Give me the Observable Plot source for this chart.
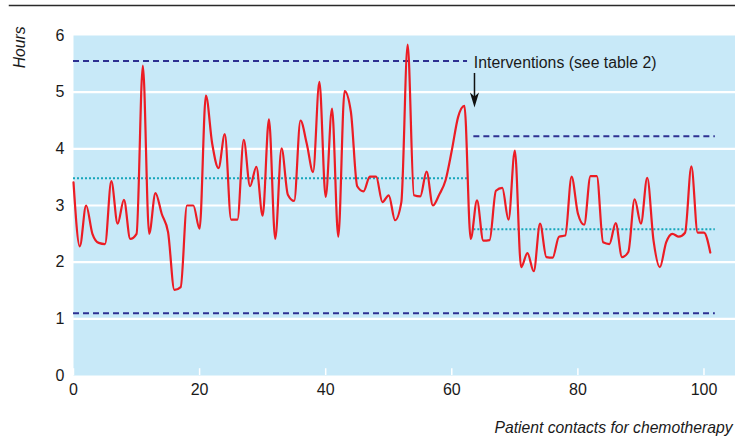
<!DOCTYPE html>
<html>
<head>
<meta charset="utf-8">
<script src="https://cdn.jsdelivr.net/npm/d3@7"></script>
<script src="https://cdn.jsdelivr.net/npm/@observablehq/plot@0.6"></script>
<style>
  html, body { margin: 0; padding: 0; background: #fff; }
  svg { display: block; }
</style>
</head>
<body>
<div id="chart"></div>
<script>
// Hours per patient contact for chemotherapy (contacts 0..101)
const hours = [
  3.41, 2.28, 3.00, 2.50, 2.34, 2.32, 3.43, 2.68, 3.10, 2.41, 2.50, 5.47, 2.50, 3.22, 2.85, 2.53, 1.51,
  1.56, 3.00, 3.00, 2.59, 4.94, 4.09, 3.66, 4.26, 2.75, 2.75, 4.16, 3.34, 3.68, 2.82, 4.52, 2.41, 4.01,
  3.19, 3.08, 4.50, 4.09, 3.59, 5.18, 3.15, 4.71, 2.45, 5.02, 4.65, 3.34, 3.25, 3.51, 3.51, 3.06, 3.18,
  2.74, 3.06, 5.84, 3.18, 3.16, 3.60, 3.00, 3.19, 3.44, 3.97, 4.56, 4.76, 2.41, 3.09, 2.38, 2.39, 3.26,
  3.31, 2.75, 3.97, 1.91, 2.16, 1.84, 2.68, 2.09, 2.08, 2.45, 2.47, 3.51, 2.86, 2.66, 3.52, 3.52, 2.35,
  2.32, 2.69, 2.09, 2.18, 3.11, 2.68, 3.49, 2.38, 1.91, 2.35, 2.50, 2.45, 2.52, 3.69, 2.52, 2.52, 2.17
];
const contacts = hours.map((_, i) => i);

// Control limits for the two phases (before / after interventions)
const phaseStart = [0, 63.5];
const phaseEnd = [62.5, 101.8];
const upperLimit = [5.55, 4.22];
const centreLine = [3.48, 2.58];
const lowerLimit = [1.1];
const lowerStart = [0];
const lowerEnd = [101.8];

// Tick labels
const xTicks = [0, 20, 40, 60, 80, 100];
const yTicks = [0, 1, 2, 3, 4, 5, 6];
const gridHours = [1, 2, 3, 4, 5];

// Annotation
const annotationText = ["Interventions (see table 2)"];
const interventionAt = 63.6;
const yAxisLabel = ["Hours"];
const xAxisLabel = ["Patient contacts for chemotherapy"];

const series = contacts.map((c, i) => ({contact: c, hours: hours[i]}));
const ucl = phaseStart.map((s, i) => ({x1: s, x2: phaseEnd[i], y: upperLimit[i]}));
const mean = phaseStart.map((s, i) => ({x1: s, x2: phaseEnd[i], y: centreLine[i]}));
const lcl = lowerLimit.map((v, i) => ({x1: lowerStart[i], x2: lowerEnd[i], y: v}));

const arrowHead = {
  draw(ctx) {
    ctx.moveTo(0, 0);
    ctx.lineTo(-4.5, -15);
    ctx.lineTo(0, -11);
    ctx.lineTo(4.5, -15);
    ctx.closePath();
  }
};

const font = "'Liberation Sans', Arial, sans-serif";

const chart = Plot.plot({
  width: 735,
  height: 436,
  marginLeft: 73,
  marginRight: 0,
  marginTop: 35,
  marginBottom: 61,
  style: {fontFamily: font, fontSize: "16px", color: "#1a1a1a", background: "#fff", overflow: "visible"},
  x: {domain: [0, 105], ticks: xTicks, label: null},
  y: {domain: [0, 6], ticks: yTicks, label: null},
  marks: [
    Plot.frame({fill: "#c8e9f8", stroke: "none"}),
    Plot.frame({anchor: "top", insetTop: -30, insetLeft: -64, stroke: "#2a2a2a", strokeWidth: 1.5}),
    Plot.ruleY(gridHours, {stroke: "#ffffff", strokeWidth: 2.2}),
    Plot.ruleX(xTicks, {y1: 0, y2: 0.12, stroke: "#ffffff", strokeWidth: 1.5}),
    Plot.ruleY(lcl, {x1: "x1", x2: "x2", y: "y", stroke: "#2e3192", strokeWidth: 2, strokeDasharray: "6,4"}),
    Plot.ruleY(ucl, {x1: "x1", x2: "x2", y: "y", stroke: "#2e3192", strokeWidth: 2, strokeDasharray: "6,4"}),
    Plot.ruleY(mean, {x1: "x1", x2: "x2", y: "y", stroke: "#17a6bb", strokeWidth: 2, strokeDasharray: "2,2"}),
    Plot.line(series, {x: "contact", y: "hours", stroke: "#ec1c24", strokeWidth: 2.2, curve: "monotone-x"}),
    Plot.text(annotationText, {x: interventionAt - 0.1, y: 5.42, text: d => d, textAnchor: "start", lineAnchor: "bottom", fontSize: 15.8, fill: "#1a1a1a"}),
    Plot.ruleX([interventionAt], {y1: 5.33, y2: 4.85, stroke: "#111", strokeWidth: 1.5}),
    Plot.dot([interventionAt], {x: d => d, y: 4.73, symbol: arrowHead, fill: "#111", stroke: "none", r: 4}),
    Plot.axisY({ticks: yTicks, tickFormat: d => String(d), tickSize: 0, tickPadding: 9, label: null, fontSize: 16}),
    Plot.axisX({ticks: xTicks, tickFormat: d => String(d), tickSize: 0, tickPadding: 8, label: null, fontSize: 16}),
    Plot.text(yAxisLabel, {frameAnchor: "top-left", rotate: -90, textAnchor: "end", lineAnchor: "bottom", dx: -49, dy: -9, fontStyle: "italic", fontSize: 15.7, text: d => d}),
    Plot.text(xAxisLabel, {frameAnchor: "bottom-right", textAnchor: "end", lineAnchor: "bottom", dx: -3, dy: 57, fontStyle: "italic", fontSize: 15.7, text: d => d})
  ]
});

document.getElementById("chart").appendChild(chart);
</script>
</body>
</html>
